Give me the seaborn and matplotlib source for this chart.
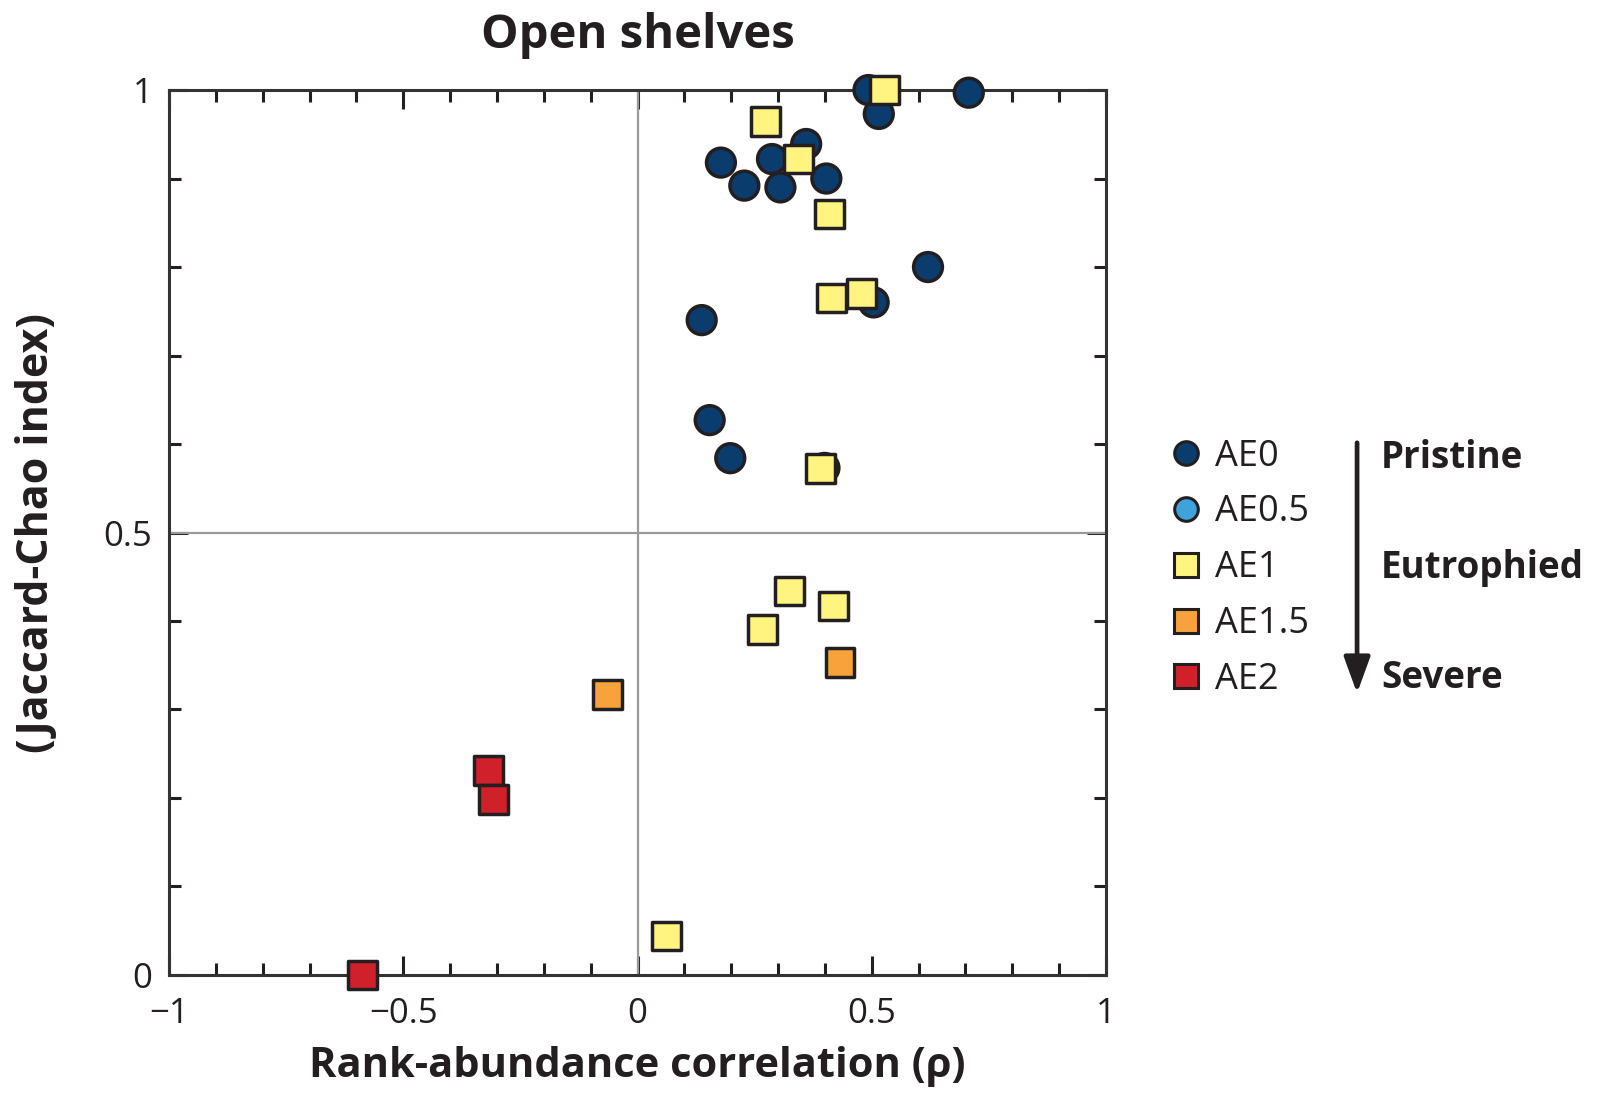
import matplotlib
matplotlib.use("Agg")
import matplotlib.pyplot as plt
from matplotlib.lines import Line2D
from matplotlib.ticker import MultipleLocator, FixedLocator
import seaborn as sns
import pandas as pd

# ---- data ----
ae0_x = [0.493, 0.707, 0.515, 0.360, 0.178, 0.287, 0.228, 0.305, 0.403, 0.620, 0.504, 0.137, 0.154, 0.198, 0.399]
ae0_y = [1.000, 0.997, 0.973, 0.939, 0.918, 0.922, 0.892, 0.890, 0.900, 0.800, 0.760, 0.740, 0.627, 0.584, 0.573]
ae1_x = [0.528, 0.274, 0.344, 0.410, 0.414, 0.478, 0.390, 0.325, 0.419, 0.266, 0.062]
ae1_y = [1.000, 0.964, 0.922, 0.860, 0.765, 0.770, 0.572, 0.434, 0.417, 0.390, 0.044]
ae15_x = [0.432, -0.064]
ae15_y = [0.353, 0.317]
ae2_x = [-0.318, -0.307, -0.587]
ae2_y = [0.231, 0.198, 0.000]

groups = ["AE0", "AE0.5", "AE1", "AE1.5", "AE2"]
colors = ["#0b3c6e", "#3fa2db", "#fff47f", "#f7a23a", "#d0202a"]
markers = ["o", "o", "s", "s", "s"]
severity_labels = ["Pristine", "Eutrophied", "Severe"]
xticks = [-1, -0.5, 0, 0.5, 1]
xticklabels = ["\u22121", "\u22120.5", "0", "0.5", "1"]
yticks = [0, 0.5, 1]
yticklabels = ["0", "0.5", "1"]

df = pd.concat([
    pd.DataFrame({"x": ae0_x, "y": ae0_y, "group": "AE0"}),
    pd.DataFrame({"x": ae1_x, "y": ae1_y, "group": "AE1"}),
    pd.DataFrame({"x": ae15_x, "y": ae15_y, "group": "AE1.5"}),
    pd.DataFrame({"x": ae2_x, "y": ae2_y, "group": "AE2"}),
], ignore_index=True)

sns.set_style("white")
plt.rcParams["font.family"] = ["Open Sans", "DejaVu Sans"]
ink = "#231f20"

fig = plt.figure(figsize=(16.06, 10.94), dpi=100)
ax = fig.add_axes([0.1052, 0.1088, 0.5835, 0.8089])

ax.axvline(0, color="#9a9a9a", lw=1.6, zorder=1)
ax.axhline(0.5, color="#9a9a9a", lw=1.6, zorder=1)

palette = dict(zip(groups, colors))
mk = dict(zip(groups, markers))
sns.scatterplot(data=df, x="x", y="y", hue="group", style="group",
                palette=palette, markers=mk, s=430, edgecolor=ink,
                linewidth=2.5, legend=False, ax=ax, zorder=3, clip_on=False)

ax.set_xlim(-1, 1)
ax.set_ylim(0, 1)
ax.xaxis.set_major_locator(FixedLocator(xticks))
ax.set_xticklabels(xticklabels)
ax.xaxis.set_minor_locator(MultipleLocator(0.1))
ax.yaxis.set_major_locator(FixedLocator(yticks))
ax.set_yticklabels(yticklabels)
ax.yaxis.set_minor_locator(MultipleLocator(0.1))

ax.tick_params(which="both", direction="in", top=True, right=True, bottom=True, left=True,
               color=ink, width=2.2, labelsize=25, labelcolor=ink)
ax.tick_params(which="major", length=14)
ax.tick_params(which="minor", length=8.5)
ax.tick_params(axis="x", which="major", pad=16)
ax.tick_params(axis="y", which="major", pad=12)
for sp in ax.spines.values():
    sp.set_color("#333333")
    sp.set_linewidth(2.2)
    sp.set_visible(True)

ax.set_xlabel("Rank-abundance correlation (\u03c1)", fontsize=30, fontweight="bold",
              color=ink, labelpad=11)
ax.set_ylabel("(Jaccard-Chao index)", fontsize=31, fontweight="bold",
              color=ink, labelpad=33)
ax.set_title("Open shelves", fontsize=34, fontweight="bold", color=ink, pad=30)

handles = [Line2D([], [], linestyle="none", marker=m, markersize=17,
                  markerfacecolor=c, markeredgecolor=ink, markeredgewidth=2.2)
           for m, c in zip(markers, colors)]
leg = fig.legend(handles, groups, loc="center left", bbox_to_anchor=(0.714, 0.4805),
                 frameon=False, fontsize=26, labelspacing=0.55, handletextpad=0.2,
                 handlelength=1.2, borderpad=0)
for t in leg.get_texts():
    t.set_color(ink)

# severity arrow
fig.add_artist(matplotlib.patches.FancyArrowPatch(
    (0.8450, 1 - 440 / 1094), (0.8450, 1 - 696 / 1094), transform=fig.transFigure,
    arrowstyle="-|>,head_length=1.1,head_width=0.4", mutation_scale=20,
    color=ink, lw=3.4))
for lab, ypx in zip(severity_labels, [458, 568, 678]):
    fig.text(0.8600, 1 - ypx / 1094, lab, fontsize=26.5, fontweight="bold",
             color=ink, va="center", ha="left")

fig.savefig("out.png", dpi=100)
